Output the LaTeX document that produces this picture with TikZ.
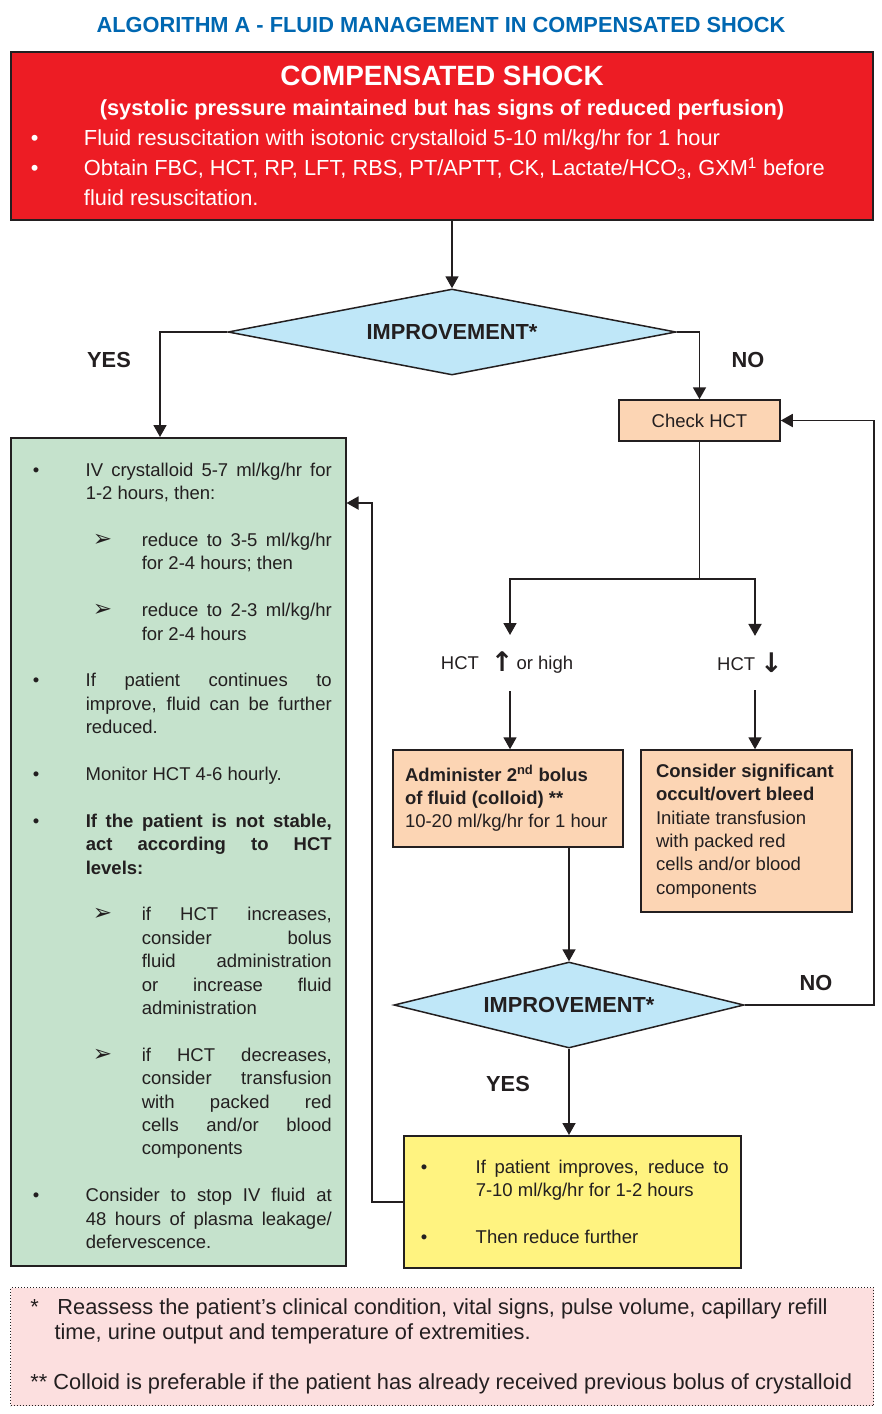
\documentclass[tikz,border=0pt]{standalone}
\usepackage{fontspec}
\setmainfont{Liberation Sans}
\newfontfamily\symfont{DejaVu Sans}
\usetikzlibrary{shapes.geometric,arrows.meta}

\definecolor{titleblue}{RGB}{0,103,177}
\definecolor{shockred}{RGB}{237,28,36}
\definecolor{decblue}{RGB}{191,231,248}
\definecolor{peach}{RGB}{252,213,180}
\definecolor{palegreen}{RGB}{197,226,204}
\definecolor{paleyellow}{RGB}{255,243,128}
\definecolor{notepink}{RGB}{252,223,223}
\definecolor{ink}{RGB}{35,31,32}

\newcommand{\bodysize}{\fontsize{18.5}{23.4}\selectfont}
\newcommand{\bigsize}{\fontsize{21.8}{25}\selectfont}
\newcommand{\plainspaces}{\spaceskip=0pt\xspaceskip=0pt}
% bullet and arrow items with hanging indent
\newcommand{\bulitem}[2][53pt]{\hangindent=#1\hangafter=1\noindent\makebox[#1][l]{\textbullet}#2\par}
\newcommand{\arrowitem}[1]{\hangindent=109pt\hangafter=1\noindent\hspace*{60pt}\makebox[49pt][l]{\symfont\fontsize{23}{23.4}\selectfont ➢}#1\par}
\newcommand{\hctarrow}[1]{\raisebox{-2pt}{\symfont\bfseries\fontsize{27}{23.4}\selectfont #1}}

\tikzset{
  box/.style={draw=ink, line width=1.5pt, inner sep=0pt, text=ink},
  decision/.style={diamond, draw=ink, line width=1.5pt, fill=decblue, inner sep=0pt, font=\bfseries\bigsize, text=ink},
  flow/.style={draw=ink, line width=1.8pt, -{Triangle[length=12pt,width=13pt]}},
  link/.style={draw=ink, line width=1.8pt, line cap=rect},
  answer/.style={font=\bfseries\bigsize, text=ink},
}

\begin{document}
\begin{tikzpicture}[x=1pt,y=-1pt]
  \useasboundingbox (0,0) rectangle (882,1414);
  % Title
  \node[font=\bfseries\bigsize, text=titleblue] (title) at (441,25) {ALGORITHM A - FLUID MANAGEMENT IN COMPENSATED SHOCK};
  % Start box
  \node[box, fill=shockred, text=white, line width=2pt, anchor=north west, text width=862pt, minimum height=168pt, align=left, font=\bigsize] (shock) at (10,51) {%
    \plainspaces
    {\centering\fontsize{27.9}{30}\bfseries COMPENSATED SHOCK\par
    \fontsize{21.8}{30}\selectfont (systolic pressure maintained but has signs of reduced perfusion)\par}
    \fontsize{21.8}{30}\selectfont\leftskip=20pt
    \bulitem{Fluid resuscitation with isotonic crystalloid 5-10 ml/kg/hr for 1 hour}
    \bulitem{Obtain FBC, HCT, RP, LFT, RBS, PT/APTT, CK, Lactate/HCO\textsubscript{3}, GXM\textsuperscript{1} before\newline fluid resuscitation.}};
  % Decisions
  \node[decision, aspect=5.2, minimum width=448pt, minimum height=86pt] (d1) at (452,332) {IMPROVEMENT*};
  \node[decision, aspect=4.1, minimum width=350pt, minimum height=86pt] (d2) at (569,1005) {IMPROVEMENT*};
  \node[answer] (yes1) at (109,360) {YES};
  \node[answer] (no1) at (748,360) {NO};
  \node[answer] (yes2) at (508,1084) {YES};
  \node[answer] (no2) at (816,983) {NO};
  % YES branch
  \node[box, fill=palegreen, anchor=north west, text width=335pt, minimum height=828pt, align=justify, font=\bodysize] (yesbox) at (10,437) {%
    \leftskip=22pt\rightskip=14pt\parskip=23.4pt
    \bulitem{\rule{0pt}{21.5pt}IV crystalloid 5-7 ml/kg/hr for\linebreak 1-2 hours, then:}
    \arrowitem{reduce to 3-5 ml/kg/hr\linebreak for 2-4 hours; then}
    \arrowitem{reduce to 2-3 ml/kg/hr\linebreak for 2-4 hours}
    \bulitem{If patient continues to\linebreak improve, fluid can be further\linebreak reduced.}
    \bulitem{Monitor HCT 4-6 hourly.}
    \bulitem{\textbf{If the patient is not stable,\linebreak act according to HCT\linebreak levels:}}
    \arrowitem{if HCT increases,\linebreak consider bolus\linebreak fluid administration\linebreak or increase fluid\linebreak administration}
    \arrowitem{if HCT decreases,\linebreak consider transfusion\linebreak with packed red\linebreak cells and/or blood\linebreak components}
    \bulitem{Consider to stop IV fluid at\linebreak 48 hours of plasma leakage/\linebreak defervescence.}};
  % NO branch
  \node[box, fill=peach, minimum width=161pt, minimum height=41pt, font=\bodysize] (checkhct) at (699.5,420.5) {Check HCT};
  \node[font=\bodysize, text=ink, inner xsep=0pt, inner ysep=17pt] (hctup) at (507,663) {HCT\hspace{12pt}\hctarrow{↑}\hspace{3pt}or high};
  \node[font=\bodysize, text=ink, inner xsep=0pt, inner ysep=17pt] (hctdown) at (750,663) {HCT\hspace{5pt}\hctarrow{↓}};
  \node[box, fill=peach, text width=206pt, inner xsep=12pt, minimum height=97pt, align=left, font=\bodysize] (admin) at (508,798.5) {%
    \plainspaces
    \textbf{Administer 2\textsuperscript{nd} bolus}\\\textbf{of fluid (colloid) **}\\10-20 ml/kg/hr for 1 hour};
  \node[box, fill=peach, text width=181pt, inner xsep=15pt, minimum height=162pt, align=left, font=\bodysize] (bleed) at (746.5,831) {%
    \plainspaces
    \textbf{Consider significant}\\\textbf{occult/overt bleed}\\Initiate transfusion\\with packed red\\cells and/or blood\\components};
  \node[box, fill=paleyellow, anchor=north west, text width=337pt, minimum height=132pt, align=justify, font=\bodysize] (ybox) at (403,1135) {%
    \leftskip=17pt\rightskip=12pt\parskip=23.4pt
    \bulitem[55pt]{If patient improves, reduce to\linebreak 7-10 ml/kg/hr for 1-2 hours}
    \bulitem[55pt]{Then reduce further}};
  % Footnotes
  \node[draw=ink, dotted, line width=1pt, fill=notepink, anchor=north west, text width=863pt, minimum height=118pt, inner sep=0pt, align=left, font=\bigsize, text=ink] (note) at (10,1287) {%
    \plainspaces\leftskip=20pt\parskip=25pt
    \hangindent=24pt\hangafter=1\noindent\makebox[27pt][l]{*}Reassess the patient’s clinical condition, vital signs, pulse volume, capillary refill\newline time, urine output and temperature of extremities.\par
    ** Colloid is preferable if the patient has already received previous bolus of crystalloid\par};
  % Connectors
  \coordinate (yesin) at (160,437);
  \coordinate (splitL) at (510,579);
  \coordinate (splitR) at (755,579);
  \coordinate (loop) at (874,421);
  \coordinate (back) at (372,503);
  \draw[flow] (shock.south -| d1.north) -- (d1.north);
  \draw[flow] (d1.west) -| (yesin);
  \draw[flow] (d1.east) -| (checkhct.north);
  \draw[link] (checkhct.south) -- (checkhct.south |- splitL);
  \draw[link] (splitL) -- (splitR);
  \draw[flow] (splitL) -- (splitL |- hctup.north);
  \draw[flow] (splitR) -- (splitR |- hctdown.north);
  \draw[flow] (hctup.south -| splitL) -- (splitL |- admin.north);
  \draw[flow] (hctdown.south -| splitR) -- (splitR |- bleed.north);
  \draw[flow] (admin.south -| d2.north) -- (d2.north);
  \draw[flow] (d2.south) -- (d2.south |- ybox.north);
  \draw[flow] (d2.east) -| (loop |- checkhct.east) -- (checkhct.east);
  \draw[flow] (ybox.west) -| (back) -- (back -| yesbox.east);
\end{tikzpicture}
\end{document}
